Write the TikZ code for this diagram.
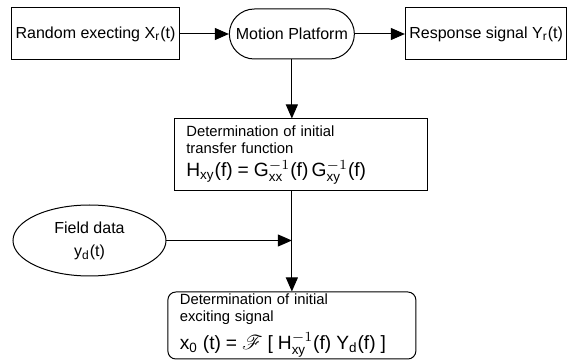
\documentclass[tikz,border=0pt]{standalone}
\usepackage{amsmath}
\usepackage{mathrsfs}
\usepackage{fontspec}
\setmainfont{Liberation Sans}
\usetikzlibrary{
  arrows.meta,
  positioning,
  shapes.geometric
}
\tikzset{
  signalbox/.style={draw,line width=0.5pt,minimum height=26pt,inner sep=2pt,align=center,font=\fontsize{8}{9.5}\selectfont},
  platformnode/.style={draw,line width=0.5pt,rounded corners=12.5pt,minimum width=62.5pt,minimum height=25pt,inner sep=2pt,font=\fontsize{8}{9.5}\selectfont},
  calcbox/.style={draw,line width=0.5pt,align=left,inner xsep=6pt,inner ysep=1pt,font=\fontsize{7.4}{8.4}\selectfont},
  fieldnode/.style={ellipse,draw,line width=0.5pt,minimum width=76.5pt,minimum height=35.5pt,inner sep=1pt,align=center,font=\fontsize{8}{9.5}\selectfont},
  flowarrow/.style={-{Triangle[length=7pt,width=6pt]},line width=0.5pt}
}
\newcommand{\bigformula}{\fontsize{9.6}{10}\selectfont}

\begin{document}
\begin{tikzpicture}[node distance=24.5pt]
\useasboundingbox (0,0) rectangle (287.5pt,-182pt);
\node[signalbox, minimum width=82.5pt] (rand) at (47.75pt,-17pt) {Random execting X$_{\text{r}}$(t)};
\node[platformnode, right=of rand] (mp) {Motion Platform};
\node[signalbox, right=25pt of mp, minimum width=80.5pt] (resp) {Response signal Y$_{\text{r}}$(t)};
\node[calcbox, below=29.5pt of mp, xshift=4.5pt, minimum width=126.5pt, minimum height=36pt, text width=114.5pt] (det)
  {Determination of initial\\transfer function\\[3pt]
   {\bigformula H$_{\text{xy}}$(f) = G$^{-1}_{\text{xx}}$(f)\,G$^{-1}_{\text{xy}}$(f)}};
\node[calcbox, below=50pt of det, xshift=-4.5pt, rounded corners=4pt, minimum width=124pt, minimum height=33.5pt, text width=112pt] (exc)
  {Determination of initial\\exciting signal\\[3pt]
   {\bigformula x$_{\text{0}}$ (t) = $\mathscr{F}$ [ H$^{-1}_{\text{xy}}$(f) Y$_{\text{d}}$(f) ]}};
\node[fieldnode] (field) at (44.75pt,-120.25pt) {Field data\\[2pt]y$_{\text{d}}$(t)};
\coordinate (join) at (mp.south |- field.east);

\draw[flowarrow] (rand) -- (mp);
\draw[flowarrow] (mp) -- (resp);
\draw[flowarrow] (mp) -- (mp |- det.north);
\draw[flowarrow] (field) -- (join);
\draw[flowarrow] (det.south -| mp.south) -- (exc);
\end{tikzpicture}
\end{document}
